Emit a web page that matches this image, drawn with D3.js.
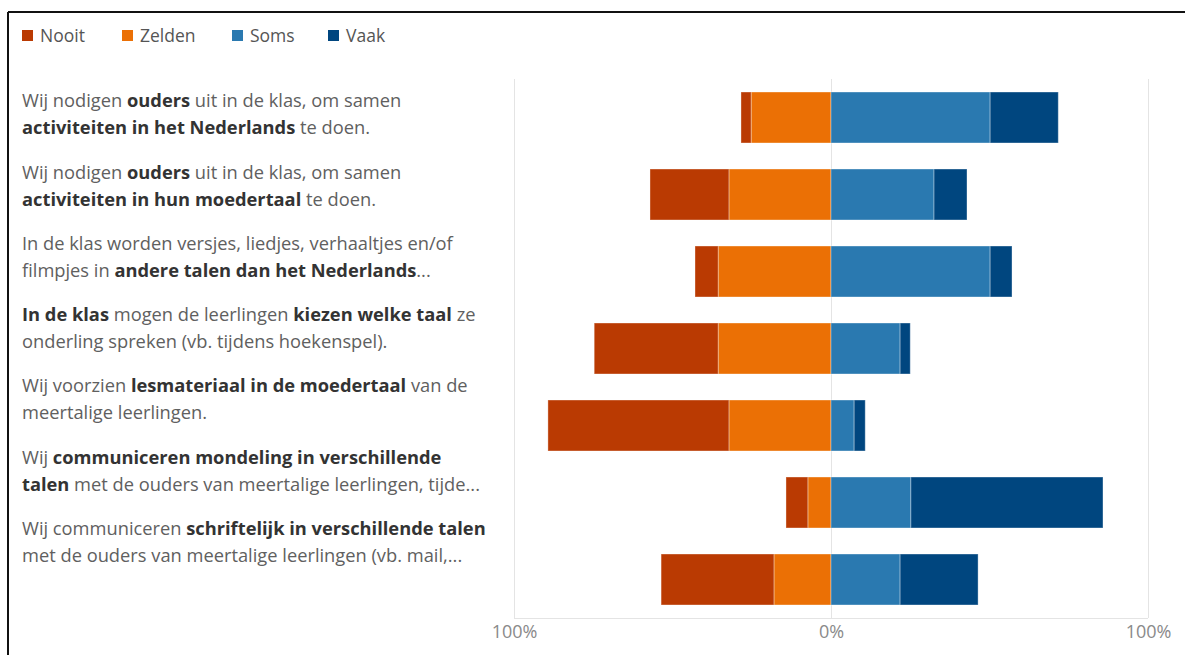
<!DOCTYPE html>
<html>
<head>
<meta charset="utf-8">
<script src="https://cdn.jsdelivr.net/npm/d3@7"></script>
<style>
  body { margin: 0; background: #fff; }
  svg { display: block; font-family: "Open Sans", "Noto Sans", sans-serif; }
</style>
</head>
<body>
<svg id="chart" width="1185" height="655"></svg>
<script>
// statements (** marks bold, | marks a line break)
const statements = [
    'Wij nodigen **ouders** uit in de klas, om samen|**activiteiten in het Nederlands** te doen.',
    'Wij nodigen **ouders** uit in de klas, om samen|**activiteiten in hun moedertaal** te doen.',
    'In de klas worden versjes, liedjes, verhaaltjes en/of|filmpjes in **andere talen dan het Nederlands**...',
    '**In de klas** mogen de leerlingen **kiezen welke taal** ze|onderling spreken (vb. tijdens hoekenspel).',
    'Wij voorzien **lesmateriaal in de moedertaal** van de|meertalige leerlingen.',
    'Wij **communiceren mondeling in verschillende**|**talen** met de ouders van meertalige leerlingen, tijde...',
    'Wij communiceren **schriftelijk in verschillende talen**|met de ouders van meertalige leerlingen (vb. mail,...'
];

const answers = ['Nooit', 'Zelden', 'Soms', 'Vaak'];

// percentages per statement
const nooit  = [3.2, 24.9, 7.3, 39.1, 57.1, 6.9, 35.6];
const zelden = [25.2, 32.2, 35.6, 35.6, 32.2, 7.3, 18.0];
const soms   = [50.2, 32.5, 50.2, 21.8, 7.3, 25.2, 21.8];
const vaak   = [21.5, 10.4, 6.9, 3.2, 3.5, 60.6, 24.6];

const axisTicks = [-100, 0, 100];

const colors = ['#ba3a02', '#eb7005', '#2a79b0', '#00467f'];

const svg = d3.select('#chart');

// frame lines (top and left)
svg.append('line').attr('x1', 8).attr('x2', 1185).attr('y1', 12).attr('y2', 12)
    .attr('stroke', '#111').attr('stroke-width', 2);
svg.append('line').attr('x1', 8).attr('x2', 8).attr('y1', 12).attr('y2', 655)
    .attr('stroke', '#111').attr('stroke-width', 2);

// legend
const color = d3.scaleOrdinal().domain(answers).range(colors);
const legendX = [22, 122, 232, 328];
const legend = svg.append('g').selectAll('g')
    .data(answers)
    .join('g')
    .attr('transform', (d, i) => `translate(${legendX[i]},30)`);
legend.append('rect')
    .attr('width', 11).attr('height', 11)
    .attr('fill', d => color(d));
legend.append('text')
    .attr('x', 18).attr('y', 5.5).attr('dy', '0.35em')
    .attr('font-size', 17.5).attr('fill', '#555')
    .text(d => d);

// scales
const rows = d3.range(statements.length);
const x = d3.scaleLinear().domain([-100, 100]).range([514, 1148]);
const y = d3.scaleBand().domain(rows).range([79, 618])
    .paddingInner(0.338).paddingOuter(0.169);
const labelY = d3.scalePoint().domain(rows).range([114.5, 542]);

// grid
const grid = svg.append('g');
grid.selectAll('line.v')
    .data(axisTicks)
    .join('line')
    .attr('class', 'v')
    .attr('x1', d => x(d) + 0.5).attr('x2', d => x(d) + 0.5)
    .attr('y1', 79).attr('y2', 618)
    .attr('stroke', '#e4e4e4');
grid.append('line')
    .attr('x1', x(-100)).attr('x2', x(100))
    .attr('y1', 618.5).attr('y2', 618.5)
    .attr('stroke', '#e4e4e4');

// stacked diverging bars
const bars = [];
rows.forEach(i => {
    bars.push({ row: i, key: 'Zelden', x0: -zelden[i], x1: 0 });
    bars.push({ row: i, key: 'Nooit', x0: -zelden[i] - nooit[i], x1: -zelden[i] });
    bars.push({ row: i, key: 'Soms', x0: 0, x1: soms[i] });
    bars.push({ row: i, key: 'Vaak', x0: soms[i], x1: soms[i] + vaak[i] });
});

svg.append('g').selectAll('rect')
    .data(bars)
    .join('rect')
    .attr('x', d => x(d.x0))
    .attr('width', d => x(d.x1) - x(d.x0))
    .attr('y', d => y(d.row))
    .attr('height', y.bandwidth())
    .attr('fill', d => color(d.key))
    .attr('stroke', '#fff')
    .attr('stroke-opacity', 0.35)
    .attr('stroke-width', 1);

// axis labels
const axis = svg.append('g')
    .attr('transform', 'translate(0,620)')
    .call(d3.axisBottom(x).tickValues(axisTicks).tickSize(0).tickPadding(5)
        .tickFormat(d => Math.abs(d) + '%'));
axis.select('.domain').remove();
axis.selectAll('text')
    .attr('font-family', '"Open Sans", sans-serif')
    .attr('font-size', 18).attr('fill', '#8a8a8a');

// statement labels with bold parts
const labels = svg.append('g').selectAll('text')
    .data(statements)
    .join('text')
    .attr('font-size', 18.3)
    .attr('fill', '#606060');

labels.each(function (s, i) {
    const t = d3.select(this);
    s.split('|').forEach((line, li) => {
        let first = true;
        line.split('**').forEach((p, pi) => {
            if (!p) return;
            const ts = t.append('tspan').text(p);
            if (pi % 2 === 1) ts.attr('font-weight', 'bold').attr('fill', '#333');
            if (first) {
                ts.attr('x', 22).attr('y', labelY(i) - 13.5 + li * 27).attr('dy', '0.35em');
                first = false;
            }
        });
    });
});
</script>
</body>
</html>
